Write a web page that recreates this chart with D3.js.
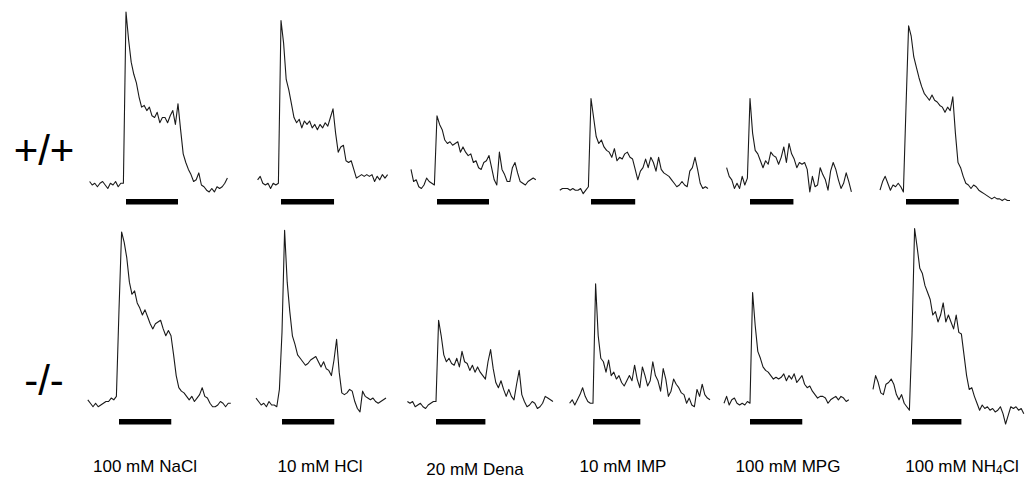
<!DOCTYPE html>
<html>
<head>
<meta charset="utf-8">
<script src="https://cdn.jsdelivr.net/npm/d3@7"></script>
<style>
  body { margin: 0; background: #fff; }
  svg { display: block; }
</style>
</head>
<body>
<div id="container"></div>
<script>
/* DATA */
// chorda tympani responses, relative units (NaCl +/+ peak = 100), 1 s samples
// time of first sample is given relative to stimulus onset (s)
const genotypes = ["+/+", "-/-"];
const stimuli = ["100 mM NaCl", "10 mM HCl", "20 mM Dena", "10 mM IMP", "100 mM MPG", "100 mM NH4Cl"];

const startWT = [-14, -9, -10, -12, -9, -10];
const startKO = [-12, -10, -11, -9, -10, -15];
const durWT = [20, 20.4, 20, 17, 16.7, 20.3];
const durKO = [20.1, 20.1, 19, 18.2, 20.1, 19];

const naclWT = [2,0,1,-1,1,2,0,-2,1,0,2,-1,1,1, 100,84,71,64,59,51,45,46,43,45,40,39,42,36,39,39,36,40,43,35,47,32,18,13,9,6,2,3,7,0,-1,-3,-4,-2,-4,-1,-2,-1,1,4];
const hclWT = [3,5,1,0,1,-2,1,0,1, 95,82,61,55,47,39,36,38,33,37, 35,37,33,35,32,35,33,36,34,39, 44,30,19,22,23,14,13,14,9,4, 5,6,5,6,5,6,2,5,3,6, 4,6];
const denaWT = [9,2,3,-1,-2,0,4,2,1,0, 40,35,32,26,24,25,23,24,25,19, 22,19,17,18,13,14,10,9,13,14, 17,10,3,0,19,9,6,2,2,10, 13,7,2,1,0,2,3,4,3];
const impWT = [-3,-2,-2,-2,-3,-2,-3,-3,-2,-5,-3,-1, 50,39,28,24,26,22,20,19,16,21, 14,16,15,18,19,16,15,9,3,8, 10,15,10,16,13,8,16,9,7,6, 5,3,1,-1,0,2,0,-1,8,10, 16,9,1,-2,-1,-2];
const mpgWT = [10,5,3,-2,1,-2,5,0,4, 50,30,20,18,14,10,14,12,19,17, 16,12,16,22,13,24,18,15,10,13, 12,13,9,-4,5,-1,0,10,6,3, -3,8,13,9,3,-2,1,7,2,-4];
const nh4clWT = [-3,2,5,1,-3,0,-1,1,-1,-4, 45,92,86,74,68,62,57,53,51,49, 52,49,48,46,45,42,45,43,51,30, 13,10,5,1,0,-2,0,-1,-3,-4, -5,-6,-7,-8,-7,-8,-8,-9,-8,-9, -9];

const naclKO = [3,1,-1,1,-1,0,1,2,2,4,3,5, 55,100,94,85,71,64,66,59,56,52, 55,51,47,44,47,48,49,44,40,43, 40,29,17,10,8,7,5,3,5,2, 4,6,10,5,4,1,-1,-1,0,2, 1,-1,1,1];
const hclKO = [4,2,0,1,-1,2,0,0,-1,9, 42,101,71,54,40,35,29,27,25,23, 24,26,27,28,25,22,25,21,20,17, 26,38,19,7,6,7,9,8,2,-2, -4,8,5,4,3,4,2,1,2,3, 4];
const denaKO = [2,1,2,-1,0,1,-1,-2,0,1,2, 2,49,40,29,25,27,24,23,27,22, 31,25,24,20,23,19,22,19,17,15, 25,32,21,13,10,14,9,5,9,5, 3,12,20,6,2,-1,0,2,1,-2, -1,1,5,4,3,2];
const impKO = [1,3,0,3,6,10,5,2,1, 1,70,40,27,25,19,26,17,19,15, 17,13,11,14,17,14,23,15,10,22, 17,11,14,25,17,14,8,21,15,5, 8,15,12,10,7,6,1,4,0,-1, 9,5,12,6,4,3];
const mpgKO = [1,5,0,3,4,1,0,1,0,2, 1,65,46,31,27,22,20,19,17,15, 16,15,16,18,14,17,15,18,13,15, 17,12,10,11,8,6,4,5,5,4, 1,3,4,5,3,5,4,2,3];
const nh4clKO = [9,17,13,7,6,12,13,15,12,6,3,6,1,-1,-3, 40,102,91,79,76,69,65,61,52,54, 48,52,59,48,52,48,44,52,42,41, 29,17,9,10,5,1,-3,0,-2,-1, -3,-2,-4,-3,-1,-5,-11,-6,-1,-2, -1,-3,-2,-5];

const tracesWT = [naclWT, hclWT, denaWT, impWT, mpgWT, nh4clWT];
const tracesKO = [naclKO, hclKO, denaKO, impKO, mpgKO, nh4clKO];

/* LAYOUT */
const width = 1027, height = 491;
const onsetX = [[126, 281, 437, 591, 750, 906], [119, 282, 436, 593, 750, 912]];
const baseY = [185, 405];
const labelY = [150, 380];
const stimLabelX = [145, 320, 475, 623, 788, 962];

const rows = [
  { traces: tracesWT, start: startWT, dur: durWT },
  { traces: tracesKO, start: startKO, dur: durKO }
];

/* SCALES */
const xScale = d3.scaleLinear().domain([0, 20]).range([0, 52]);
const yScale = d3.scaleLinear().domain([0, 100]).range([0, -173]);

const svg = d3.select("#container")
  .append("svg")
  .attr("width", width)
  .attr("height", height)
  .style("font-family", "'Liberation Sans', Arial, sans-serif");

rows.forEach((row, r) => {
  row.traces.forEach((vals, c) => {
    const g = svg.append("g")
      .attr("transform", `translate(${onsetX[r][c]},${baseY[r]})`);

    const line = d3.line()
      .x((d, i) => xScale(row.start[c] + i))
      .y(d => yScale(d));

    g.append("path")
      .datum(vals)
      .attr("d", line)
      .attr("fill", "none")
      .attr("stroke", "#1a1a1a")
      .attr("stroke-width", 1.1)
      .attr("stroke-linejoin", "round");

    // stimulus bar
    g.append("rect")
      .attr("x", xScale(0))
      .attr("width", xScale(row.dur[c]) - xScale(0))
      .attr("y", 14)
      .attr("height", 5.5)
      .attr("fill", "#000");
  });

  svg.append("text")
    .attr("x", 44)
    .attr("y", labelY[r])
    .attr("text-anchor", "middle")
    .attr("dominant-baseline", "central")
    .attr("font-size", 42)
    .attr("fill", "#000")
    .text(genotypes[r]);
});

// stimulus names
const names = svg.selectAll("text.stim")
  .data(stimuli)
  .join("text")
  .attr("class", "stim")
  .attr("x", (d, i) => stimLabelX[i])
  .attr("y", (d, i) => i === 2 ? 475 : 472)
  .attr("text-anchor", "middle")
  .attr("font-size", 17)
  .attr("fill", "#000");

names.each(function(d) {
  const t = d3.select(this);
  const m = d.match(/^(.*NH)4(Cl)$/);
  if (m) {
    t.append("tspan").text(m[1]);
    t.append("tspan").attr("font-size", 12).attr("dy", 2).text("4");
    t.append("tspan").attr("dy", -2).text(m[2]);
  } else {
    t.text(d);
  }
});
</script>
</body>
</html>
